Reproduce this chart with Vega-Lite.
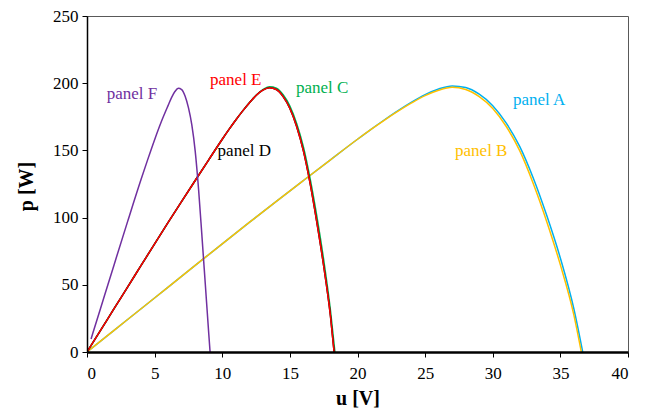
{
  "$schema": "https://vega.github.io/schema/vega-lite/v6.json",
  "width": 541,
  "height": 336,
  "autosize": "none",
  "padding": {"left": 87, "top": 16, "right": 17, "bottom": 58},
  "background": "white",
  "config": {
    "view": {"stroke": "#595959", "strokeWidth": 1},
    "font": "Liberation Serif",
    "axis": {"labelFont": "Liberation Serif", "titleFont": "Liberation Serif"},
    "text": {"font": "Liberation Serif"}
  },
  "datasets": {
    "curves": [
      {"series": "A", "u": 0, "p": 0}, {"series": "A", "u": 2, "p": 16.1}, {"series": "A", "u": 4, "p": 32.2}, {"series": "A", "u": 6, "p": 48.3}, {"series": "A", "u": 8, "p": 64.4}, {"series": "A", "u": 10, "p": 80.5}, {"series": "A", "u": 12, "p": 96.4}, {"series": "A", "u": 14, "p": 112.1}, {"series": "A", "u": 16, "p": 127.6}, {"series": "A", "u": 18, "p": 143}, {"series": "A", "u": 20, "p": 158.3}, {"series": "A", "u": 21, "p": 165.7}, {"series": "A", "u": 22, "p": 172.8}, {"series": "A", "u": 23, "p": 179.6}, {"series": "A", "u": 24, "p": 185.9}, {"series": "A", "u": 25, "p": 191.5}, {"series": "A", "u": 26, "p": 195.7}, {"series": "A", "u": 27, "p": 198}, {"series": "A", "u": 28, "p": 196.8}, {"series": "A", "u": 29, "p": 191.8}, {"series": "A", "u": 30, "p": 183.3}, {"series": "A", "u": 31, "p": 170.3}, {"series": "A", "u": 32, "p": 152.8}, {"series": "A", "u": 33, "p": 129.3}, {"series": "A", "u": 34, "p": 101.3}, {"series": "A", "u": 35, "p": 69.8}, {"series": "A", "u": 36, "p": 32}, {"series": "A", "u": 36.65, "p": 0},
      {"series": "B", "u": 0, "p": 0}, {"series": "B", "u": 2, "p": 16.1}, {"series": "B", "u": 4, "p": 32.2}, {"series": "B", "u": 6, "p": 48.3}, {"series": "B", "u": 8, "p": 64.4}, {"series": "B", "u": 10, "p": 80.5}, {"series": "B", "u": 12, "p": 96.4}, {"series": "B", "u": 14, "p": 112.1}, {"series": "B", "u": 16, "p": 127.6}, {"series": "B", "u": 18, "p": 143}, {"series": "B", "u": 20, "p": 158.3}, {"series": "B", "u": 21, "p": 165.6}, {"series": "B", "u": 22, "p": 172.6}, {"series": "B", "u": 23, "p": 179.2}, {"series": "B", "u": 24, "p": 185.3}, {"series": "B", "u": 25, "p": 190.8}, {"series": "B", "u": 26, "p": 194.8}, {"series": "B", "u": 27, "p": 196.9}, {"series": "B", "u": 28, "p": 195.3}, {"series": "B", "u": 29, "p": 190}, {"series": "B", "u": 30, "p": 181.2}, {"series": "B", "u": 31, "p": 167.8}, {"series": "B", "u": 32, "p": 149.6}, {"series": "B", "u": 33, "p": 125.2}, {"series": "B", "u": 34, "p": 96.8}, {"series": "B", "u": 35, "p": 64.8}, {"series": "B", "u": 36, "p": 27.5}, {"series": "B", "u": 36.55, "p": 0},
      {"series": "C", "u": 0, "p": 0}, {"series": "C", "u": 1, "p": 16.1}, {"series": "C", "u": 2, "p": 32.2}, {"series": "C", "u": 3, "p": 48.3}, {"series": "C", "u": 4, "p": 64.4}, {"series": "C", "u": 5, "p": 80.5}, {"series": "C", "u": 6, "p": 96.4}, {"series": "C", "u": 7, "p": 112.1}, {"series": "C", "u": 8, "p": 127.6}, {"series": "C", "u": 9, "p": 143}, {"series": "C", "u": 10, "p": 158.3}, {"series": "C", "u": 10.5, "p": 165.6}, {"series": "C", "u": 11, "p": 172.6}, {"series": "C", "u": 11.5, "p": 179.2}, {"series": "C", "u": 12, "p": 185.4}, {"series": "C", "u": 12.5, "p": 191}, {"series": "C", "u": 13, "p": 195.2}, {"series": "C", "u": 13.5, "p": 197.3}, {"series": "C", "u": 14, "p": 196.3}, {"series": "C", "u": 14.5, "p": 191.4}, {"series": "C", "u": 15, "p": 183}, {"series": "C", "u": 15.5, "p": 170}, {"series": "C", "u": 16, "p": 152.5}, {"series": "C", "u": 16.5, "p": 128.8}, {"series": "C", "u": 17, "p": 100.5}, {"series": "C", "u": 17.5, "p": 68.5}, {"series": "C", "u": 18, "p": 31}, {"series": "C", "u": 18.33, "p": 0},
      {"series": "D", "u": 0, "p": 0}, {"series": "D", "u": 1, "p": 16.1}, {"series": "D", "u": 2, "p": 32.2}, {"series": "D", "u": 3, "p": 48.3}, {"series": "D", "u": 4, "p": 64.4}, {"series": "D", "u": 5, "p": 80.5}, {"series": "D", "u": 6, "p": 96.4}, {"series": "D", "u": 7, "p": 112.1}, {"series": "D", "u": 8, "p": 127.6}, {"series": "D", "u": 9, "p": 143}, {"series": "D", "u": 10, "p": 158.3}, {"series": "D", "u": 10.5, "p": 165.6}, {"series": "D", "u": 11, "p": 172.6}, {"series": "D", "u": 11.5, "p": 179.2}, {"series": "D", "u": 12, "p": 185.3}, {"series": "D", "u": 12.5, "p": 190.8}, {"series": "D", "u": 13, "p": 194.8}, {"series": "D", "u": 13.5, "p": 196.6}, {"series": "D", "u": 14, "p": 195.3}, {"series": "D", "u": 14.5, "p": 190}, {"series": "D", "u": 15, "p": 181.2}, {"series": "D", "u": 15.5, "p": 167.8}, {"series": "D", "u": 16, "p": 149.6}, {"series": "D", "u": 16.5, "p": 125.2}, {"series": "D", "u": 17, "p": 96}, {"series": "D", "u": 17.5, "p": 64}, {"series": "D", "u": 18, "p": 26.8}, {"series": "D", "u": 18.27, "p": 0},
      {"series": "E", "u": 0, "p": 0}, {"series": "E", "u": 1, "p": 16.1}, {"series": "E", "u": 2, "p": 32.2}, {"series": "E", "u": 3, "p": 48.3}, {"series": "E", "u": 4, "p": 64.4}, {"series": "E", "u": 5, "p": 80.5}, {"series": "E", "u": 6, "p": 96.4}, {"series": "E", "u": 7, "p": 112.1}, {"series": "E", "u": 8, "p": 127.6}, {"series": "E", "u": 9, "p": 143}, {"series": "E", "u": 10, "p": 158.3}, {"series": "E", "u": 10.5, "p": 165.6}, {"series": "E", "u": 11, "p": 172.6}, {"series": "E", "u": 11.5, "p": 179.2}, {"series": "E", "u": 12, "p": 185.3}, {"series": "E", "u": 12.5, "p": 190.8}, {"series": "E", "u": 13, "p": 194.8}, {"series": "E", "u": 13.5, "p": 196.6}, {"series": "E", "u": 14, "p": 195.3}, {"series": "E", "u": 14.5, "p": 190}, {"series": "E", "u": 15, "p": 181.2}, {"series": "E", "u": 15.5, "p": 167.8}, {"series": "E", "u": 16, "p": 149.6}, {"series": "E", "u": 16.5, "p": 125.2}, {"series": "E", "u": 17, "p": 96}, {"series": "E", "u": 17.5, "p": 64}, {"series": "E", "u": 18, "p": 26.8}, {"series": "E", "u": 18.27, "p": 0},
      {"series": "F", "u": 0.3, "p": 9.7}, {"series": "F", "u": 1, "p": 32.4}, {"series": "F", "u": 2, "p": 64.8}, {"series": "F", "u": 3, "p": 97}, {"series": "F", "u": 4, "p": 128.5}, {"series": "F", "u": 4.5, "p": 143.5}, {"series": "F", "u": 5, "p": 158}, {"series": "F", "u": 5.5, "p": 171.5}, {"series": "F", "u": 6, "p": 183.5}, {"series": "F", "u": 6.25, "p": 189.3}, {"series": "F", "u": 6.5, "p": 193.8}, {"series": "F", "u": 6.75, "p": 196.2}, {"series": "F", "u": 7, "p": 195.3}, {"series": "F", "u": 7.25, "p": 190.5}, {"series": "F", "u": 7.5, "p": 181.8}, {"series": "F", "u": 7.75, "p": 169}, {"series": "F", "u": 8, "p": 149.5}, {"series": "F", "u": 8.25, "p": 121}, {"series": "F", "u": 8.5, "p": 86}, {"series": "F", "u": 8.75, "p": 50}, {"series": "F", "u": 9, "p": 14}, {"series": "F", "u": 9.1, "p": 0}
    ],
    "labels": [
      {"series": "A", "u": 33.43, "p": 187.6, "text": "panel A"},
      {"series": "B", "u": 29.15, "p": 149.3, "text": "panel B"},
      {"series": "C", "u": 17.39, "p": 196.1, "text": "panel C"},
      {"series": "D", "u": 11.63, "p": 149.3, "text": "panel D"},
      {"series": "E", "u": 11.0, "p": 202.5, "text": "panel E"},
      {"series": "F", "u": 3.32, "p": 192, "text": "panel F"}
    ]
  },
  "layer": [
    {
      "data": {"name": "curves"},
      "mark": {"type": "line", "strokeWidth": 1.5, "interpolate": "monotone", "clip": true},
      "encoding": {
        "x": {
          "field": "u", "type": "quantitative",
          "scale": {"domain": [0, 40], "nice": false, "zero": true},
          "axis": {
            "title": "u [V]", "values": [0, 5, 10, 15, 20, 25, 30, 35, 40], "grid": false,
            "domainColor": "black", "domainWidth": 2.5, "tickColor": "black", "tickWidth": 1, "tickSize": 5,
            "labelFont": "Liberation Serif", "labelFontSize": 17, "labelColor": "black", "labelPadding": 8,
            "titleFont": "Liberation Serif", "titleFontSize": 20, "titleFontWeight": "bold", "titleColor": "black", "titlePadding": 7,
            "zindex": 1
          }
        },
        "y": {
          "field": "p", "type": "quantitative",
          "scale": {"domain": [0, 250], "nice": false},
          "axis": {
            "title": "p [W]", "values": [0, 50, 100, 150, 200, 250], "grid": false,
            "domainColor": "black", "domainWidth": 1.5, "tickColor": "black", "tickWidth": 1, "tickSize": 5,
            "labelFont": "Liberation Serif", "labelFontSize": 17, "labelColor": "black", "labelPadding": 4,
            "titleFont": "Liberation Serif", "titleFontSize": 20, "titleFontWeight": "bold", "titleColor": "black",
            "titleX": -61, "titleY": 170, "titleAngle": 270, "titleAlign": "center", "titleBaseline": "middle",
            "zindex": 1
          }
        },
        "color": {
          "field": "series", "type": "nominal",
          "scale": {"domain": ["A", "B", "C", "D", "E", "F"], "range": ["#00B0F0", "#FFC000", "#00B050", "#000000", "#FF0000", "#7030A0"]},
          "legend": null
        },
        "detail": {"field": "series"},
        "order": {"field": "u", "type": "quantitative"}
      }
    },
    {
      "data": {"name": "labels"},
      "mark": {"type": "text", "font": "Liberation Serif", "fontSize": 17, "align": "center", "baseline": "middle"},
      "encoding": {
        "x": {"field": "u", "type": "quantitative"},
        "y": {"field": "p", "type": "quantitative"},
        "text": {"field": "text"},
        "color": {"field": "series", "type": "nominal", "legend": null}
      }
    }
  ]
}
